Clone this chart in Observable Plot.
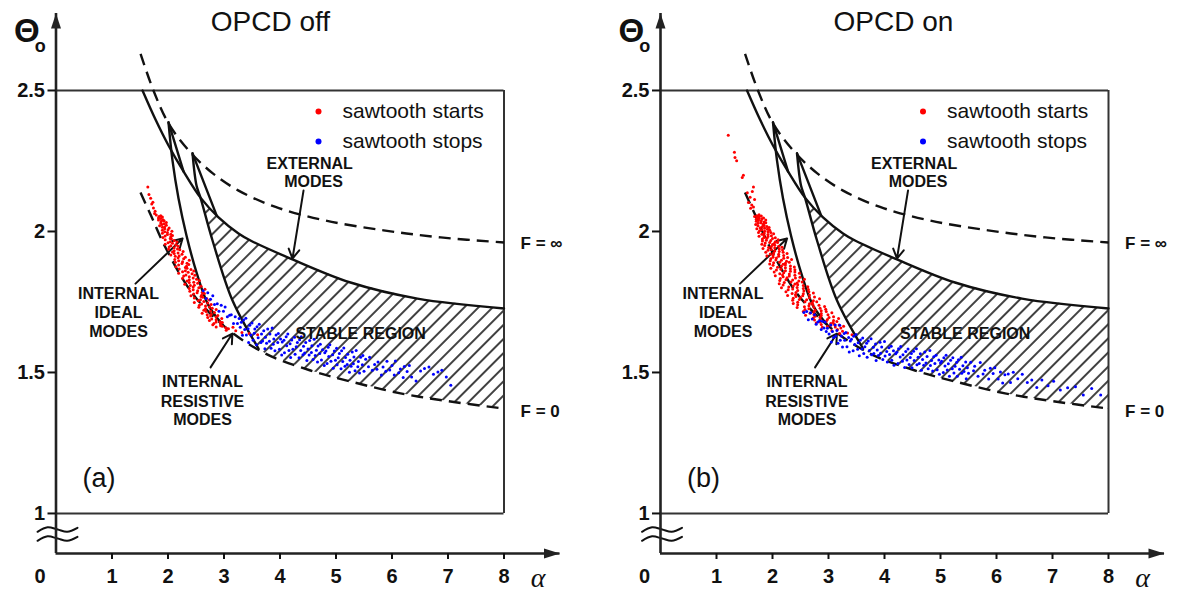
<!DOCTYPE html>
<html><head><meta charset="utf-8">
<script src="https://cdn.jsdelivr.net/npm/d3@7"></script>
<script src="https://cdn.jsdelivr.net/npm/@observablehq/plot@0.6"></script>
<style>
body{margin:0;background:#fff;}
#wrap{display:flex;width:1180px;height:595px;overflow:hidden;}
#wrap svg{overflow:visible;}
</style>
</head><body>
<svg width="0" height="0" style="position:absolute"><defs>
<pattern id="hatch" patternUnits="userSpaceOnUse" width="10" height="10" patternTransform="rotate(45)">
<line x1="5" y1="-1" x2="5" y2="11" stroke="#111" stroke-width="1.6"/></pattern></defs></svg>
<div id="wrap"></div>
<script>
// ---------- axes ----------
const xTicks = [1, 2, 3, 4, 5, 6, 7, 8];
const yTicks = [1, 1.5, 2, 2.5];
const yBase = 0.858, yTop = 2.773, xEnd = 9;
const boxA = [0, 8], boxT = [1, 2.5];

// ---------- stability diagram curves (alpha, Theta0) ----------
const fInf = [[1.51,2.63],[1.74,2.5],[2.01,2.383],[2.37,2.287],[2.8,2.206],[3.26,2.145],[3.92,2.087],[4.81,2.039],[5.85,2.004],[6.87,1.979],[8,1.961]];
const mainCurve = [[1.545,2.5],[1.777,2.397],[2.009,2.305],[2.277,2.213],[2.58,2.12],[2.902,2.05],[3.259,1.993],[3.473,1.968],[4.188,1.904],[5.259,1.819],[6.455,1.762],[8,1.727]];
const fZero = [[1.509,2.138],[1.688,2.06],[1.955,1.943],[2.438,1.78],[3.027,1.66],[3.741,1.567],[4.545,1.507],[5.259,1.468],[6.152,1.426],[7.045,1.397],[8,1.372]];
const tooth1Leg = [[2.009,2.387],[2.08,2.252],[2.188,2.117],[2.33,1.986],[2.509,1.855],[2.723,1.738],[2.973,1.67]];
const tooth1Short = [[2.009,2.387],[2.277,2.213]];
const tooth2Leg = [[2.438,2.277],[2.509,2.163],[2.58,2.12],[2.795,1.968],[3.152,1.755],[3.616,1.585]];
const tooth2Short = [[2.438,2.277],[2.866,2.058]];
const breakWave = [[-0.33,-0.008],[-0.15,0.008],[0.03,0],[0.2,-0.008],[0.384,0.006]];
const breakLevels = [0.943, 0.911];

// ---------- measurements: OPCD off ----------
const startsOff = [[1.64,2.158],[1.66,2.131],[1.69,2.118],[1.71,2.097],[1.73,2.104],[1.74,2.083],[1.77,2.072],[1.76,2.064],
[1.79,2.058],[1.87,2.056],[1.84,2.053],[1.9,2.051],[1.83,2.048],[1.87,2.046],[1.91,2.042],[1.83,2.041],[1.93,2.038],[1.88,2.036],
[1.97,2.032],[1.87,2.03],[1.93,2.027],[1.89,2.025],[1.97,2.022],[1.85,2.02],[1.94,2.016],[1.9,2.015],[2.02,2.012],[1.94,2.01],
[2.0,2.006],[1.9,2.004],[2.07,2.001],[1.94,1.999],[1.99,1.996],[1.9,1.994],[2.05,1.99],[1.99,1.989],[2.08,1.986],[1.95,1.984],
[2.05,1.981],[1.91,1.979],[2.04,1.975],[2.06,1.974],[1.95,1.971],[2.11,1.968],[2.04,1.964],[2.16,1.963],[2.0,1.96],[2.08,1.958],
[1.95,1.955],[2.14,1.953],[2.05,1.949],[2.18,1.948],[2.02,1.945],[2.11,1.942],[2.17,1.938],[2.01,1.937],[2.21,1.935],[2.11,1.932],
[2.27,1.929],[2.08,1.927],[2.18,1.924],[2.11,1.922],[2.25,1.919],[2.05,1.917],[2.2,1.913],[2.13,1.912],[2.31,1.909],[2.18,1.907],
[2.28,1.903],[2.12,1.901],[2.38,1.898],[2.19,1.896],[2.26,1.893],[2.13,1.891],[2.34,1.887],[2.25,1.886],[2.37,1.883],[2.19,1.881],
[2.33,1.877],[2.14,1.875],[2.31,1.872],[2.34,1.87],[2.2,1.867],[2.41,1.865],[2.31,1.861],[2.46,1.86],[2.26,1.857],[2.36,1.855],
[2.19,1.852],[2.43,1.85],[2.32,1.846],[2.48,1.845],[2.28,1.842],[2.38,1.839],[2.45,1.835],[2.26,1.834],[2.51,1.831],[2.38,1.829],
[2.56,1.826],[2.34,1.824],[2.46,1.82],[2.38,1.819],[2.53,1.816],[2.3,1.813],[2.47,1.809],[2.4,1.808],[2.59,1.806],[2.45,1.803],
[2.55,1.8],[2.38,1.798],[2.66,1.795],[2.45,1.793],[2.53,1.79],[2.39,1.788],[2.61,1.784],[2.52,1.783],[2.65,1.78],[2.46,1.778],
[2.6,1.774],[2.41,1.772],[2.59,1.769],[2.62,1.767],[2.47,1.764],[2.69,1.762],[2.58,1.758],[2.74,1.757],[2.54,1.754],[2.64,1.752],
[2.47,1.748],[2.71,1.746],[2.6,1.743],[2.77,1.741],[2.56,1.738],[2.67,1.736],[2.74,1.732],[2.55,1.731],[2.79,1.728],[2.67,1.726],
[2.86,1.723],[2.64,1.721],[2.76,1.717],[2.68,1.716],[2.83,1.713],[2.61,1.71],[2.77,1.706],[2.7,1.705],[2.89,1.702],[2.76,1.7],
[2.86,1.697],[2.71,1.695],[2.96,1.691],[2.78,1.69],[2.86,1.687],[2.74,1.684],[2.93,1.68],[2.86,1.679],[2.97,1.677],[2.82,1.674],
[2.94,1.671],[2.8,1.669],[2.94,1.666],[2.97,1.664],[2.86,1.661],[3.03,1.659],
[3.08,1.655],[3.16,1.66],[3.21,1.648],[3.32,1.642],[3.45,1.638],[3.6,1.634],[3.04,1.65]];
const stopsOff = [[2.63,1.79],[2.68,1.762],[2.71,1.783],[2.76,1.76],[2.8,1.772],[2.83,1.741],[2.88,1.744],[2.91,1.717],[2.95,1.738],[2.99,1.717],[3.02,1.732],[3.06,1.698],[3.1,1.703],[3.13,1.705],[3.17,1.674],[3.2,1.698],[3.24,1.674],[3.27,1.691],[3.29,1.66],
[3.31,1.678],[3.33,1.632],[3.35,1.686],[3.37,1.652],[3.39,1.692],[3.4,1.633],[3.43,1.655],[3.44,1.606],[3.46,1.667],[3.48,1.633],
[3.5,1.675],[3.52,1.614],[3.54,1.639],[3.55,1.654],[3.58,1.598],[3.59,1.662],[3.61,1.623],[3.63,1.671],[3.66,1.606],[3.67,1.636],
[3.69,1.612],[3.71,1.648],[3.73,1.584],[3.74,1.625],[3.76,1.604],[3.78,1.654],[3.81,1.611],[3.82,1.636],[3.84,1.586],[3.86,1.658],
[3.88,1.6],[3.89,1.619],[3.91,1.577],[3.93,1.633],[3.96,1.606],[3.97,1.638],[3.99,1.582],[4.01,1.619],[4.03,1.562],[4.04,1.608],
[4.07,1.614],[4.08,1.57],[4.11,1.627],[4.12,1.595],[4.14,1.636],[4.16,1.578],[4.18,1.602],[4.19,1.553],[4.21,1.615],[4.23,1.582],
[4.26,1.625],[4.27,1.565],[4.29,1.591],[4.31,1.606],[4.34,1.552],[4.35,1.616],[4.37,1.578],[4.38,1.627],[4.41,1.563],[4.42,1.593],
[4.44,1.569],[4.46,1.606],[4.48,1.542],[4.5,1.583],[4.52,1.562],[4.53,1.613],[4.56,1.571],[4.57,1.595],[4.59,1.546],[4.61,1.618],
[4.63,1.56],[4.65,1.579],[4.67,1.537],[4.68,1.594],[4.71,1.567],[4.72,1.6],[4.74,1.544],[4.76,1.581],[4.79,1.525],[4.8,1.57],
[4.82,1.576],[4.84,1.532],[4.86,1.589],[4.87,1.557],[4.89,1.598],[4.91,1.54],[4.94,1.563],[4.95,1.515],[4.97,1.576],[4.99,1.543],
[5.01,1.586],[5.02,1.527],[5.04,1.552],[5.06,1.567],[5.09,1.513],[5.1,1.577],[5.12,1.539],[5.14,1.587],[5.16,1.522],[5.17,1.553],
[5.2,1.528],[5.21,1.565],[5.24,1.501],[5.25,1.543],[5.27,1.522],[5.29,1.573],[5.31,1.531],[5.32,1.555],[5.34,1.506],[5.36,1.578],
[5.39,1.52],[5.4,1.539],[5.42,1.498],[5.44,1.554],[5.47,1.527],[5.48,1.56],[5.5,1.504],
[5.53,1.547],[5.58,1.52],[5.6,1.554],[5.65,1.508],[5.69,1.528],[5.73,1.511],[5.75,1.537],[5.81,1.491],[5.84,1.519],[5.89,1.504],[5.91,1.54],[5.96,1.509],[6.0,1.525],[6.04,1.491],[6.06,1.541],[6.12,1.499],[6.15,1.512],[6.2,1.482],[6.22,1.521],[6.27,1.503],[6.31,1.525],[6.35,1.484],[6.43,1.47],[6.51,1.505],[6.58,1.514],[6.66,1.519],[6.74,1.494],[6.82,1.502],[6.89,1.508],[6.97,1.484],[7.05,1.455]];

// ---------- measurements: OPCD on ----------
const startsOn = [[1.21,2.341],[1.32,2.281],[1.33,2.262],[1.36,2.251],[1.46,2.191],[1.48,2.199],[1.55,2.137],[1.64,2.142],[1.66,2.158],[1.6,2.121],[1.57,2.103],[1.63,2.094],[1.68,2.113],[1.61,2.082],[1.66,2.087],
[1.76,2.059],[1.72,2.056],[1.8,2.055],[1.68,2.053],[1.76,2.052],[1.73,2.049],[1.84,2.048],[1.76,2.046],[1.81,2.045],[1.71,2.043],
[1.88,2.041],[1.75,2.039],[1.8,2.038],[1.71,2.036],[1.85,2.034],[1.79,2.031],[1.88,2.031],[1.74,2.029],[1.84,2.027],[1.7,2.025],
[1.83,2.024],[1.85,2.021],[1.74,2.02],[1.9,2.018],[1.82,2.017],[1.94,2.014],[1.78,2.013],[1.86,2.011],[1.72,2.01],[1.91,2.008],
[1.81,2.006],[1.95,2.004],[1.77,2.003],[1.86,2.001],[1.92,1.999],[1.75,1.996],[1.97,1.996],[1.85,1.994],[2.02,1.992],[1.81,1.99],
[1.92,1.989],[1.85,1.986],[1.98,1.985],[1.76,1.983],[1.92,1.982],[1.85,1.979],[2.05,1.978],[1.9,1.976],[2.0,1.975],[1.82,1.973],
[2.1,1.971],[1.89,1.969],[1.97,1.968],[1.82,1.966],[2.05,1.964],[1.95,1.961],[2.09,1.961],[1.87,1.959],[2.03,1.957],[1.81,1.955],
[2.0,1.954],[2.04,1.951],[1.86,1.95],[2.11,1.948],[1.98,1.947],[2.17,1.944],[1.93,1.943],[2.04,1.941],[1.83,1.94],[2.12,1.938],
[1.98,1.936],[2.18,1.934],[1.92,1.933],[2.04,1.931],[2.12,1.929],[1.88,1.926],[2.19,1.926],[2.02,1.924],[2.26,1.922],[1.96,1.92],
[2.11,1.919],[2.01,1.916],[2.2,1.915],[1.9,1.913],[2.11,1.912],[2.01,1.909],[2.27,1.908],[2.07,1.906],[2.2,1.905],[1.97,1.903],
[2.34,1.901],[2.06,1.899],[2.16,1.898],[1.96,1.896],[2.25,1.894],[2.13,1.891],[2.3,1.891],[2.02,1.889],[2.23,1.887],[1.95,1.885],
[2.19,1.884],[2.23,1.881],[2.01,1.88],[2.32,1.878],[2.16,1.877],[2.39,1.874],[2.09,1.873],[2.23,1.871],[1.97,1.87],[2.32,1.868],
[2.15,1.866],[2.4,1.864],[2.07,1.863],[2.23,1.861],[2.32,1.859],[2.03,1.856],[2.4,1.856],[2.2,1.854],[2.48,1.852],[2.13,1.85],
[2.3,1.849],[2.18,1.846],[2.4,1.845],[2.05,1.843],[2.3,1.842],[2.19,1.839],[2.49,1.838],[2.26,1.836],[2.41,1.835],[2.14,1.833],
[2.57,1.831],[2.24,1.829],[2.36,1.828],[2.13,1.826],[2.47,1.824],[2.33,1.821],[2.53,1.821],[2.21,1.819],[2.44,1.817],[2.12,1.815],
[2.4,1.814],[2.45,1.811],[2.19,1.81],[2.55,1.808],[2.37,1.807],[2.63,1.804],[2.29,1.803],[2.44,1.801],[2.16,1.8],[2.55,1.798],
[2.36,1.796],[2.64,1.794],[2.28,1.793],[2.45,1.791],[2.56,1.789],[2.24,1.786],[2.65,1.786],[2.42,1.784],[2.73,1.782],[2.35,1.78],
[2.55,1.779],[2.41,1.776],[2.66,1.775],[2.27,1.773],[2.54,1.772],[2.42,1.769],[2.75,1.768],[2.5,1.766],[2.66,1.765],[2.37,1.763],
[2.84,1.761],[2.48,1.759],[2.61,1.758],[2.36,1.756],[2.73,1.754],[2.58,1.751],[2.79,1.751],[2.45,1.749],[2.71,1.747],[2.37,1.745],
[2.66,1.744],[2.72,1.741],[2.45,1.74],[2.83,1.738],[2.65,1.737],[2.93,1.734],[2.57,1.733],[2.74,1.731],[2.44,1.73],[2.85,1.728],
[2.65,1.726],[2.95,1.724],[2.58,1.723],[2.76,1.721],[2.87,1.719],[2.55,1.716],[2.96,1.716],[2.74,1.714],[3.06,1.712],[2.67,1.71],
[2.87,1.709],[2.74,1.706],[2.99,1.705],[2.59,1.703],[2.87,1.702],[2.76,1.699],[3.09,1.698],[2.85,1.696],[3.01,1.695],[2.73,1.693],
[3.18,1.691],[2.85,1.689],[2.98,1.688],[2.75,1.686],[3.09,1.684],[2.96,1.681],[3.15,1.681],[2.85,1.679],[3.08,1.677],[2.78,1.675],
[3.04,1.674],[3.1,1.671],[2.87,1.67],[3.19,1.668],[3.04,1.667],[3.27,1.664],[2.98,1.663],[3.12,1.661],[2.89,1.66],[3.22,1.658],
[3.16,1.652],[3.25,1.646],[3.34,1.64],[3.06,1.648],[3.42,1.634],[3.2,1.638]];
const stopsOn = [[2.56,1.713],[2.61,1.716],[2.64,1.687],[2.68,1.712],[2.71,1.69],[2.75,1.705],[2.78,1.671],[2.81,1.679],[2.84,1.683],[2.87,1.652],[2.89,1.682],[2.92,1.658],[2.94,1.679],[2.96,1.645],[2.98,1.657],
[3.01,1.636],[3.04,1.668],[3.05,1.608],[3.07,1.645],[3.09,1.624],[3.12,1.668],[3.13,1.629],[3.15,1.649],[3.17,1.604],[3.2,1.667],
[3.21,1.614],[3.23,1.629],[3.25,1.59],[3.28,1.638],[3.29,1.614],[3.31,1.642],[3.33,1.591],[3.36,1.624],[3.37,1.573],[3.39,1.612],
[3.41,1.618],[3.44,1.577],[3.45,1.628],[3.47,1.599],[3.49,1.635],[3.52,1.582],[3.53,1.605],[3.55,1.559],[3.57,1.615],[3.6,1.583],
[3.61,1.622],[3.63,1.567],[3.65,1.591],[3.68,1.604],[3.69,1.554],[3.71,1.612],[3.73,1.578],[3.76,1.62],[3.77,1.563],[3.8,1.589],
[3.81,1.567],[3.84,1.601],[3.85,1.542],[3.87,1.58],[3.89,1.56],[3.92,1.607],[3.93,1.568],[3.95,1.59],[3.97,1.546],[4.0,1.61],
[4.01,1.558],[4.04,1.574],[4.05,1.537],[4.08,1.588],[4.09,1.564],[4.12,1.593],[4.13,1.543],[4.16,1.577],[4.17,1.526],[4.2,1.566],
[4.22,1.572],[4.24,1.532],[4.25,1.584],[4.28,1.555],[4.29,1.592],[4.32,1.54],[4.33,1.563],[4.36,1.518],[4.38,1.574],[4.4,1.544],
[4.42,1.583],[4.44,1.528],[4.46,1.553],[4.48,1.567],[4.49,1.517],[4.52,1.575],[4.53,1.542],[4.57,1.584],[4.58,1.527],[4.6,1.554],
[4.62,1.532],[4.64,1.566],[4.66,1.508],[4.68,1.546],[4.7,1.526],[4.72,1.573],[4.74,1.534],[4.76,1.557],[4.78,1.513],[4.81,1.578],
[4.82,1.525],[4.84,1.542],[4.86,1.505],[4.88,1.556],[4.9,1.532],[4.92,1.561],[4.94,1.51],[4.97,1.544],[4.98,1.494],[5.0,1.534],
[5.02,1.54],[5.05,1.5],[5.06,1.552],[5.08,1.523],[5.1,1.561],[5.12,1.509],[5.14,1.531],[5.16,1.487],[5.18,1.543],[5.21,1.513],
[5.22,1.552],[5.24,1.498],[5.26,1.522],[5.29,1.536],[5.3,1.487],[5.32,1.545],[5.34,1.511],[5.37,1.554],[5.38,1.497],[5.4,1.524],
[5.42,1.503],[5.45,1.537],[5.46,1.478],[5.48,1.517],[5.5,1.497],
[5.54,1.536],[5.59,1.506],[5.61,1.522],[5.67,1.487],[5.71,1.535],[5.76,1.495],[5.79,1.508],[5.86,1.477],[5.89,1.515],[5.94,1.496],[5.97,1.517],[6.03,1.477],[6.07,1.502],[6.11,1.463],[6.15,1.492],[6.21,1.495],[6.25,1.464],[6.3,1.501],[6.38,1.478],[6.46,1.494],[6.55,1.464],[6.63,1.473],[6.72,1.447],[6.81,1.473],[6.92,1.453],[7.02,1.469],[7.14,1.438],[7.27,1.446],[7.41,1.449],[7.55,1.42],[7.7,1.443],[7.86,1.42]];

// ---------- annotations ----------
const notes = [
  {s:"EXTERNAL", a:4.53, t:2.239}, {s:"MODES", a:4.6, t:2.177},
  {s:"STABLE REGION", a:5.44, t:1.637},
  {s:"INTERNAL", a:1.116, t:1.777}, {s:"IDEAL", a:1.116, t:1.711}, {s:"MODES", a:1.116, t:1.645},
  {s:"INTERNAL", a:2.616, t:1.468}, {s:"RESISTIVE", a:2.616, t:1.397}, {s:"MODES", a:2.616, t:1.333}
];
const fLabels = [{s:"F = \u221E", a:8.295, t:1.957}, {s:"F = 0", a:8.295, t:1.362}];
const leaders = [
  {a1:4.42, t1:2.145, a2:4.223, t2:1.904},
  {a1:1.42, t1:1.815, a2:2.26, t2:1.975},
  {a1:2.76, t1:1.518, a2:3.15, t2:1.638}
];
const legendItems = [{label:"sawtooth starts", color:"#ff0000"}, {label:"sawtooth stops", color:"#0000ff"}];

const hatchPoly = [
  ...mainCurve.filter(p => p[0] >= 2.58),
  ...fZero.filter(p => p[0] > 3.62).reverse(),
  ...tooth2Leg.filter(p => p[0] > 2.58).reverse()
];

const FONT = "'Liberation Sans', Arial, sans-serif";
const arrowUp = {draw(ctx){ctx.moveTo(0,0);ctx.lineTo(5,15);ctx.lineTo(-5,15);ctx.closePath();}};
const arrowRight = {draw(ctx){ctx.moveTo(0,0);ctx.lineTo(-16,-5);ctx.lineTo(-16,5);ctx.closePath();}};
const X = d => d[0], Y = d => d[1];

function panel(cfg) {
  const {title, titleA, tag, starts, stops, ml} = cfg;
  const ink = {stroke: "#111", strokeWidth: 2.4};
  return Plot.plot({
    width: 590, height: 595,
    marginLeft: ml, marginRight: 590 - ml - 504, marginTop: 13, marginBottom: 42,
    x: {domain: [0, xEnd]},
    y: {domain: [yBase, yTop]},
    style: {fontFamily: FONT, background: "transparent", overflow: "visible", color: "#111"},
    marks: [
      Plot.line(hatchPoly, {x: X, y: Y, fill: "url(#hatch)", stroke: "none"}),
      Plot.ruleY(boxT, {x1: () => boxA[0], x2: () => boxA[1], stroke: "#333", strokeWidth: 2}),
      Plot.ruleX([boxA[1]], {y1: () => boxT[0], y2: () => boxT[1], stroke: "#333", strokeWidth: 2}),
      Plot.line(fInf, {x: X, y: Y, curve: "catmull-rom", strokeDasharray: "12,7", strokeLinecap: "butt", ...ink}),
      Plot.line(fZero, {x: X, y: Y, curve: "catmull-rom", strokeDasharray: "12,7", strokeLinecap: "butt", ...ink}),
      Plot.line(mainCurve, {x: X, y: Y, curve: "catmull-rom", ...ink}),
      Plot.line(tooth1Leg, {x: X, y: Y, curve: "catmull-rom", ...ink}),
      Plot.line(tooth1Short, {x: X, y: Y, ...ink}),
      Plot.line(tooth2Leg, {x: X, y: Y, curve: "catmull-rom", ...ink}),
      Plot.line(tooth2Short, {x: X, y: Y, ...ink}),
      Plot.arrow(leaders, {x1: "a1", y1: "t1", x2: "a2", y2: "t2", stroke: "#111", strokeWidth: 2, headLength: 8}),
      Plot.dot(starts, {x: X, y: Y, r: 1.5, fill: legendItems[0].color, stroke: "none"}),
      Plot.dot(stops, {x: X, y: Y, r: 1.5, fill: legendItems[1].color, stroke: "none"}),
      Plot.text(notes, {x: "a", y: "t", text: "s", fontSize: 16, fontWeight: "bold", fill: "#111"}),
      Plot.text(fLabels, {x: "a", y: "t", text: "s", fontSize: 17, fontWeight: "bold", textAnchor: "start", fill: "#111"}),
      // legend
      Plot.dot([legendItems[0]], {frameAnchor: "top-left", dx: 262.5, dy: 98, r: 3, fill: "color", stroke: "none"}),
      Plot.dot([legendItems[1]], {frameAnchor: "top-left", dx: 262.5, dy: 128, r: 3, fill: "color", stroke: "none"}),
      Plot.text([legendItems[0]], {frameAnchor: "top-left", dx: 286.5, dy: 98, lineAnchor: "middle", text: "label", textAnchor: "start", fontSize: 21, fill: "#111"}),
      Plot.text([legendItems[1]], {frameAnchor: "top-left", dx: 286.5, dy: 128, lineAnchor: "middle", text: "label", textAnchor: "start", fontSize: 21, fill: "#111"}),
      // titles and labels
      Plot.text([title], {x: () => titleA, y: () => 2.741, text: d => d, fontSize: 28, fill: "#111"}),
      Plot.text([tag], {x: () => 0.473, y: () => 1.124, text: d => d, fontSize: 27, textAnchor: "start", fill: "#111"}),
      Plot.text(["\u0398"], {x: () => -0.52, y: () => 2.71, text: d => d, fontSize: 33, fontWeight: "bold", fill: "#111"}),
      Plot.text(["o"], {x: () => -0.28, y: () => 2.657, text: d => d, fontSize: 18, fontWeight: "bold", fill: "#111"}),
      Plot.text(["\u03B1"], {x: () => 8.61, y: () => 0.772, text: d => d, fontSize: 28, fontStyle: "italic", fontFamily: "'Liberation Serif', 'DejaVu Serif', serif", fill: "#111"}),
      // axis break
      ...breakLevels.map(b => Plot.line(breakWave, {x: X, y: d => b + d[1], curve: "catmull-rom", stroke: "#111", strokeWidth: 2})),
      // axes
      Plot.ruleX([0], {y1: () => yBase, y2: () => yTop, stroke: "#222", strokeWidth: 2.6}),
      Plot.ruleY([yBase], {x1: () => 0, x2: () => xEnd, stroke: "#222", strokeWidth: 2.6}),
      Plot.dot([0], {x: () => 0, y: () => yTop, symbol: arrowUp, r: 5, fill: "#222", stroke: "none"}),
      Plot.dot([0], {x: () => xEnd, y: () => yBase, symbol: arrowRight, r: 5, fill: "#222", stroke: "none"}),
      Plot.axisX(xTicks, {anchor: "bottom", tickSize: 6, tickPadding: 9, fontSize: 20, fontWeight: "bold", strokeWidth: 2, label: null}),
      Plot.text([0], {x: d => d, y: () => yBase, text: d => String(d), dx: -16, dy: 15, lineAnchor: "top", fontSize: 20, fontWeight: "bold", fill: "#111"}),
      Plot.axisY(yTicks, {anchor: "left", tickSize: 8, tickPadding: 3, fontSize: 20, fontWeight: "bold", strokeWidth: 2, label: null, tickFormat: d => String(d)})
    ]
  });
}

const wrap = document.getElementById("wrap");
wrap.append(
  panel({title: "OPCD off", titleA: 3.83, tag: "(a)", starts: startsOff, stops: stopsOff, ml: 55.5}),
  panel({title: "OPCD on", titleA: 4.16, tag: "(b)", starts: startsOn, stops: stopsOn, ml: 70})
);
</script>
</body></html>
